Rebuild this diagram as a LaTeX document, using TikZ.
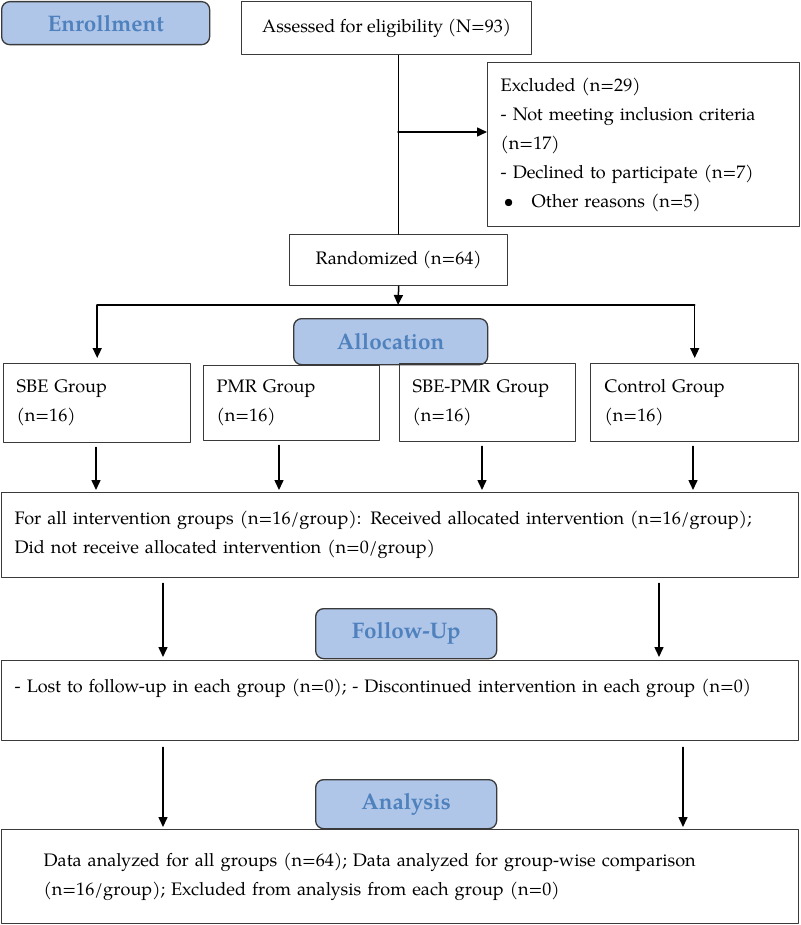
\documentclass[tikz,border=0pt]{standalone}
\usepackage{fontspec}
\setmainfont{TeX Gyre Pagella}
\usetikzlibrary{arrows.meta}
\definecolor{hdrfill}{HTML}{AFC6E9}
\definecolor{hdrtext}{HTML}{4F81BD}
\definecolor{edge}{HTML}{3A3A3A}
\begin{document}
\begin{tikzpicture}[line cap=round,line join=round,>={Triangle[width=9pt,length=10pt]},x=1pt,y=-1pt,
  box/.style={draw=edge,line width=1.4pt,anchor=north west,inner ysep=0pt,font=\fontsize{18.1}{29}\selectfont},
  lbox/.style={box,align=left,inner xsep=13pt},
  cbox/.style={box,align=center,inner xsep=0pt},
  hdr/.style={draw=edge,line width=1.3pt,fill=hdrfill,rounded corners=8pt,anchor=north west,inner sep=0pt,
    text=hdrtext,font=\fontsize{22.5}{26}\selectfont\bfseries},
  arr/.style={->,line width=1.5pt}]
\useasboundingbox (0,0) rectangle (800,925);
%% enrollment
\node[hdr,minimum width=208pt,minimum height=43pt] (enroll) at (1,1) {Enrollment};
\node[cbox,minimum width=290pt,minimum height=53pt] (assess) at (241,1) {Assessed for eligibility (N=93)};
\node[lbox,text width=286pt,minimum height=164pt] (excl) at (487,62)
  {Excluded (n=29)\\- Not meeting inclusion criteria\\(n=17)\\- Declined to participate (n=7)\\
   \makebox[31pt][l]{\hspace{3pt}\textbullet}Other reasons (n=5)};
\node[cbox,minimum width=218pt,minimum height=51pt] (rand) at (289,234) {Randomized (n=64)};
%% allocation
\node[hdr,minimum width=194pt,minimum height=46pt] (alloc) at (293,318) {Allocation};
\begin{scope}[every node/.append style={font=\fontsize{18.1}{31}\selectfont}]
\node[lbox,text width=161pt,minimum height=79pt] (sbe) at (3,363) {SBE Group\\(n=16)};
\node[lbox,text width=150pt,minimum height=75pt] (pmr) at (203,365) {PMR Group\\(n=16)};
\node[lbox,text width=150pt,minimum height=78pt] (sbepmr) at (399,363) {SBE-PMR Group\\(n=16)};
\node[lbox,inner xsep=14pt,text width=180pt,minimum height=78pt] (ctrl) at (590,363) {Control Group\\(n=16)};
\end{scope}
\node[lbox,text width=771pt,minimum height=85pt] (recv) at (1,492)
  {For all intervention groups (n=16/group): Received allocated intervention (n=16/group);\\
   Did not receive allocated intervention (n=0/group)};
%% follow-up
\node[hdr,minimum width=181pt,minimum height=50pt] (follow) at (315,608) {Follow-Up};
\node[lbox,text width=771pt,minimum height=80pt] (lost) at (1,660)
  {- Lost to follow-up in each group (n=0); - Discontinued intervention in each group (n=0)\\\mbox{}};
%% analysis
\node[hdr,minimum width=181pt,minimum height=49pt] (analysis) at (315,779) {Analysis};
\node[box,align=left,inner xsep=42pt,text width=713pt,minimum height=94pt] (data) at (1,829)
  {Data analyzed for all groups (n=64); Data analyzed for group-wise comparison\\
   (n=16/group); Excluded from analysis from each group (n=0)};
%% connectors
\coordinate (fork) at (398,132);
\coordinate (split) at (398,305);
\draw[line width=1.5pt] (rand.north |- assess.south) -- (rand.north);
\draw[arr] (fork) -- (fork -| excl.west);
\draw[arr] (rand.south) -- (split);
\draw[line width=1.5pt] (split -| sbe.north) -- (split -| ctrl.north);
\draw[arr,shorten >=5pt] (split -| sbe.north) -- (sbe.north);
\draw[arr,shorten >=5pt] (split -| ctrl.north) -- (ctrl.north);
\foreach \g/\x in {sbe/96,pmr/279,sbepmr/482,ctrl/693}{
  \coordinate (col) at (\x,0);
  \draw[arr,shorten <=4pt,shorten >=2pt] (col |- \g.south) -- (col |- recv.north);
}
\foreach \x in {163,659}{
  \coordinate (col) at (\x,0);
  \draw[arr,shorten <=5pt,shorten >=3pt] (col |- recv.south) -- (col |- lost.north);
}
\foreach \x in {163,683}{
  \coordinate (col) at (\x,0);
  \draw[arr,shorten <=6pt,shorten >=2pt] (col |- lost.south) -- (col |- data.north);
}
\end{tikzpicture}
\end{document}
